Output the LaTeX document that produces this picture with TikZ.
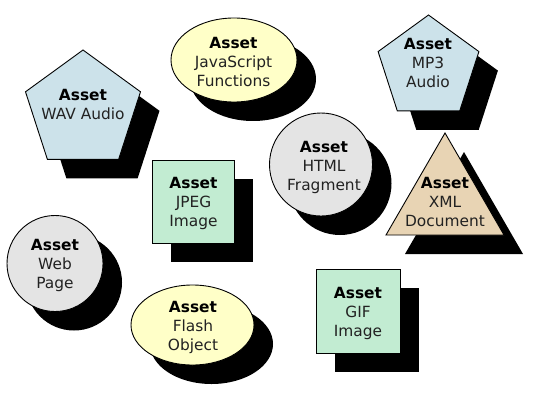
\documentclass[tikz,border=0pt]{standalone}
\usepackage{fontspec}
\setmainfont{DejaVu Sans}
\definecolor{penta}{HTML}{CCE2EA}
\definecolor{ellip}{HTML}{FFFFC8}
\definecolor{circ}{HTML}{E4E4E4}
\definecolor{sq}{HTML}{C2ECD2}
\definecolor{tri}{HTML}{E8D4B4}
\definecolor{txt}{HTML}{222222}
\tikzset{
  shad/.style={fill=black},
  shp/.style={draw=black, line width=0.9pt},
  lbl/.style={align=center, inner sep=0pt, text=txt,
    font=\fontsize{15.4}{19}\selectfont},
}
\newcommand\assetword{\textbf{\color{black}Asset}}
\begin{document}
\begin{tikzpicture}[x=1pt,y=-1pt]
\useasboundingbox (0,0) rectangle (534,406);
% ---- shadows
\begin{scope}[shift={(19,19)}]
  \fill[shad] (83,50) -- (140.5,91.8) -- (118.6,159.4) -- (47.4,159.4) -- (25.5,91.8) -- cycle;
  \fill[shad] (428.5,15) -- (478.9,51.6) -- (459.7,110.9) -- (397.3,110.9) -- (378.1,51.6) -- cycle;
  \fill[shad] (234,60) ellipse [x radius=63, y radius=42];
  \fill[shad] (192.5,325) ellipse [x radius=61.5, y radius=40];
  \fill[shad] (321,164.5) circle [radius=51.5];
  \fill[shad] (55,263.5) circle [radius=48];
  \fill[shad] (445,133) -- (504,235) -- (386,235) -- cycle;
  \fill[shad] (152,160) rectangle (234,243);
  \fill[shad] (316,269) rectangle (400,353);
\end{scope}
% ---- shapes
\filldraw[shp, fill=penta] (83,50) -- (140.5,91.8) -- (118.6,159.4) -- (47.4,159.4) -- (25.5,91.8) -- cycle;
\filldraw[shp, fill=penta] (428.5,15) -- (478.9,51.6) -- (459.7,110.9) -- (397.3,110.9) -- (378.1,51.6) -- cycle;
\filldraw[shp, fill=ellip] (234,60) ellipse [x radius=63, y radius=42];
\filldraw[shp, fill=ellip] (192.5,325) ellipse [x radius=61.5, y radius=40];
\filldraw[shp, fill=circ] (321,164.5) circle [radius=51.5];
\filldraw[shp, fill=circ] (55,263.5) circle [radius=48];
\filldraw[shp, fill=tri] (445,133) -- (504,235) -- (386,235) -- cycle;
\filldraw[shp, fill=sq] (152,160) rectangle (234,243);
\filldraw[shp, fill=sq] (316,269) rectangle (400,353);
% ---- labels
\node[lbl] (wav)   at (83,104.5)  {\assetword\\WAV Audio};
\node[lbl] (js)    at (233.5,61.5) {\assetword\\JavaScript\\Functions};
\node[lbl] (mp3)   at (428,63)    {\assetword\\MP3\\Audio};
\node[lbl] (html)  at (324,167)   {\assetword\\HTML\\Fragment};
\node[lbl] (xml)   at (445,201.5) {\assetword\\XML\\Document};
\node[lbl] (web)   at (55,265.5)  {\assetword\\Web\\Page};
\node[lbl] (jpeg)  at (193.5,203.5) {\assetword\\JPEG\\Image};
\node[lbl] (flash) at (193,327.5) {\assetword\\Flash\\Object};
\node[lbl] (gif)   at (358,313)   {\assetword\\GIF\\Image};
\end{tikzpicture}
\end{document}
